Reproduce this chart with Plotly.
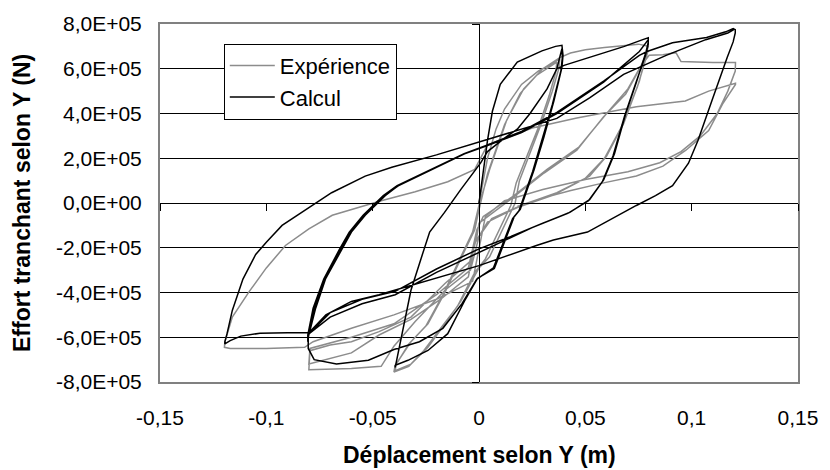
import plotly.graph_objects as go

# ---- axis ticks -------------------------------------------------------
x_ticks = [-0.15, -0.10, -0.05, 0.0, 0.05, 0.10, 0.15]
x_tick_text = ["-0,15", "-0,1", "-0,05", "0", "0,05", "0,1", "0,15"]
y_ticks = [-8e5, -6e5, -4e5, -2e5, 0.0, 2e5, 4e5, 6e5, 8e5]
y_tick_text = ["-8,0E+05", "-6,0E+05", "-4,0E+05", "-2,0E+05", "0,0E+00",
               "2,0E+05", "4,0E+05", "6,0E+05", "8,0E+05"]

# ---- test record (Expérience): displacement [m], shear force [N] -------
exp_disp = [
    0.0, 0.002, 0.004, 0.008, 0.012, 0.020, 0.028, 0.034, 0.038,
    0.0375, 0.0345, 0.0295, 0.0235, 0.019, 0.017, 0.012, 0.005, 0.0, -0.0086, -0.016, -0.024, -0.032, -0.0394,
    -0.039, -0.032, -0.024, -0.016, -0.0086, -0.002, 0.0, 0.004, 0.012, 0.0194, 0.027, 0.0366,
    0.036, 0.033, 0.028, 0.022, 0.0175, 0.015, 0.010, 0.003, -0.002, -0.010, -0.018, -0.026, -0.033, -0.040,
    -0.0395, -0.033, -0.025, -0.017, -0.010, -0.003, 0.0, 0.005, 0.013, 0.021, 0.030, 0.038, 0.043, 0.050, 0.059, 0.068, 0.075, 0.0796,
    0.0775, 0.0754, 0.068, 0.060, 0.052, 0.0366, 0.020, 0.006, 0.0, -0.004, -0.016, -0.030, -0.040, -0.046, -0.060, -0.072, -0.080,
    -0.0795, -0.070, -0.060, -0.047, -0.032, -0.016, -0.004, -0.001, 0.0, 0.0147, 0.0306, 0.046, 0.0586, 0.069, 0.075, 0.0795,
    0.078, 0.0745, 0.067, 0.059, 0.050, 0.035, 0.018, 0.004, -0.002, -0.005, -0.018, -0.032, -0.047, -0.060, -0.080,
    -0.0795, -0.060, -0.040, -0.020, -0.005, -0.001, 0.002, 0.016, 0.032, 0.047, 0.060, 0.070, 0.076, 0.080, 0.0865, 0.0926, 0.095, 0.110, 0.1206,
    0.1205, 0.117, 0.112, 0.104, 0.095, 0.085, 0.070, 0.050, 0.030, 0.012, 0.003, 0.0, -0.003, -0.020, -0.040, -0.060, -0.078, -0.082, -0.100, -0.117, -0.1197,
    -0.1195, -0.116, -0.108, -0.100, -0.091, -0.080, -0.069, -0.0567, -0.046, -0.030, -0.0147, -0.002, 0.004, 0.025, 0.046, 0.074, 0.097, 0.108, 0.1206,
    0.1206, 0.1145, 0.108, 0.0973, 0.0865, 0.074, 0.0586, 0.0427, 0.0273, 0.018,
]
exp_force = [
    0.0, 1.0e5, 2.0e5, 3.3e5, 4.2e5, 5.3e5, 5.9e5, 6.2e5, 6.45e5,
    6.0e5, 5.0e5, 3.6e5, 2.1e5, 1.0e5, 0.0, -1.0e5, -2.4e5, -2.9e5, -4.4e5, -5.4e5, -6.45e5, -7.2e5, -7.5e5,
    -7.2e5, -6.2e5, -5.4e5, -4.0e5, -2.5e5, -1.2e5, -0.3e5, 1.3e5, 3.5e5, 4.9e5, 5.7e5, 6.3e5,
    5.8e5, 4.8e5, 3.4e5, 2.0e5, 0.9e5, -0.1e5, -1.1e5, -2.5e5, -3.1e5, -4.6e5, -5.6e5, -6.6e5, -7.3e5, -7.55e5,
    -7.3e5, -6.3e5, -5.5e5, -4.1e5, -2.7e5, -1.3e5, -0.1e5, 1.5e5, 3.7e5, 5.1e5, 6.0e5, 6.5e5, 6.7e5, 6.85e5, 6.95e5, 7.05e5, 7.1e5, 7.0e5,
    6.2e5, 5.44e5, 3.55e5, 2.1e5, 1.2e5, 0.46e5, -0.1e5, -0.7e5, -1.5e5, -3.0e5, -3.9e5, -5.3e5, -6.4e5, -7.3e5, -7.4e5, -7.45e5, -7.45e5,
    -6.6e5, -6.35e5, -6.2e5, -5.75e5, -5.1e5, -3.6e5, -2.6e5, -1.5e5, -0.9e5, 0.15e5, 1.34e5, 2.36e5, 3.86e5, 4.87e5, 5.9e5, 6.8e5,
    6.3e5, 5.2e5, 3.4e5, 2.0e5, 1.1e5, 0.35e5, -0.2e5, -0.85e5, -1.8e5, -3.3e5, -4.3e5, -5.2e5, -5.9e5, -6.7e5, -7.2e5,
    -6.5e5, -6.0e5, -5.4e5, -4.1e5, -2.9e5, -1.2e5, -0.6e5, 0.3e5, 1.5e5, 2.5e5, 4.0e5, 5.1e5, 6.1e5, 6.6e5, 6.63e5, 6.72e5, 6.32e5, 6.28e5, 6.28e5,
    5.9e5, 5.0e5, 4.0e5, 3.0e5, 2.3e5, 1.8e5, 1.4e5, 1.05e5, 0.6e5, 0.1e5, -0.6e5, -2.0e5, -3.5e5, -4.3e5, -5.0e5, -5.6e5, -6.2e5, -6.45e5, -6.5e5, -6.5e5, -6.45e5,
    -6.2e5, -5.1e5, -3.95e5, -2.9e5, -1.9e5, -1.16e5, -0.55e5, -0.2e5, 0.1e5, 0.5e5, 0.95e5, 1.5e5, 2.6e5, 3.35e5, 3.8e5, 4.3e5, 4.56e5, 5.0e5, 5.35e5,
    5.3e5, 4.42e5, 3.24e5, 2.36e5, 1.65e5, 1.21e5, 0.9e5, 0.55e5, 0.15e5, -0.15e5,
]

# ---- numerical model (Calcul): displacement [m], shear force [N] -------
calc_disp = [
    0.0, 0.001, 0.002, 0.004, 0.0063, 0.010, 0.018, 0.0296, 0.036, 0.039,
    0.0395, 0.039, 0.0352, 0.0306, 0.0259, 0.0194, 0.0166, 0.0072, -0.0007, -0.0068, -0.0147, -0.024, -0.0334, -0.0394,
    -0.0394, -0.0366, -0.032, -0.0273, -0.0232, -0.0162, -0.0086, 0.0007, 0.004, 0.012, 0.018, 0.024, 0.032, 0.0366, 0.039,
    0.0392, 0.0385, 0.0345, 0.030, 0.0252, 0.0188, 0.0158, 0.0068, -0.001, -0.008, -0.017, -0.028, -0.040, -0.052, -0.067, -0.0775, -0.0803,
    -0.0803, -0.0768, -0.0721, -0.0646, -0.060, -0.0535, -0.0441, -0.038, -0.0226, -0.0068, 0.004, 0.012, 0.018, 0.024, 0.032, 0.0366, 0.040, 0.052, 0.068, 0.077, 0.0796,
    0.0796, 0.0786, 0.074, 0.069, 0.0637, 0.0586, 0.052, 0.0427, 0.030, 0.015, 0.0, -0.020, -0.0394, -0.055, -0.070, -0.080, -0.0805,
    -0.0805, -0.0775, -0.0727, -0.065, -0.0605, -0.054, -0.0445, -0.038, -0.0226, -0.0068, 0.004, 0.020, 0.0366, 0.0586, 0.0754, 0.0796,
    0.0796, 0.0783, 0.0735, 0.0685, 0.063, 0.058, 0.0515, 0.042, 0.025, 0.0, -0.020, -0.0394, -0.055, -0.070, -0.080, -0.0805,
    -0.0805, -0.078, -0.073, -0.0655, -0.061, -0.0545, -0.045, -0.0385, -0.023, -0.007, 0.004, 0.020, 0.0366, 0.0586, 0.0754, 0.079, 0.091, 0.107, 0.116, 0.1195, 0.1205,
    0.1205, 0.1195, 0.1167, 0.110, 0.103, 0.0985, 0.091, 0.083, 0.074, 0.051, 0.035, 0.027, 0.0, -0.047, -0.060, -0.072, -0.080, -0.090, -0.103, -0.112, -0.117, -0.1195,
    -0.1195, -0.1185, -0.116, -0.111, -0.105, -0.100, -0.0926, -0.0814, -0.0693, -0.0535, -0.041, -0.020, 0.0007, 0.0366, 0.052, 0.068, 0.088, 0.1066, 0.117, 0.1198,
]
calc_force = [
    0.0, 0.7e5, 1.34e5, 2.8e5, 4.1e5, 5.3e5, 6.3e5, 6.8e5, 7.0e5, 7.05e5,
    6.6e5, 6.06e5, 4.56e5, 2.97e5, 1.48e5, -0.29e5, -0.6e5, -2.93e5, -3.37e5, -4.38e5, -5.84e5, -6.59e5, -7.03e5, -7.25e5,
    -7.35e5, -6.1e5, -3.9e5, -2.5e5, -1.3e5, -0.42e5, 0.6e5, 1.78e5, 2.3e5, 2.9e5, 3.3e5, 4.0e5, 5.1e5, 6.0e5, 6.9e5,
    6.5e5, 5.9e5, 4.4e5, 2.9e5, 1.4e5, -0.35e5, -0.7e5, -2.9e5, -3.4e5, -4.5e5, -5.6e5, -6.2e5, -6.55e5, -7.03e5, -7.2e5, -7.0e5, -6.5e5,
    -6.0e5, -4.7e5, -3.38e5, -2.05e5, -1.3e5, -0.55e5, 0.33e5, 0.77e5, 1.47e5, 2.2e5, 2.57e5, 2.9e5, 3.3e5, 4.0e5, 5.1e5, 6.0e5, 6.15e5, 6.5e5, 6.99e5, 7.3e5, 7.38e5,
    7.2e5, 6.77e5, 5.4e5, 4.0e5, 2.2e5, 1.03e5, 0.15e5, -0.42e5, -0.9e5, -1.5e5, -2.05e5, -2.95e5, -3.95e5, -4.3e5, -4.9e5, -5.85e5, -6.2e5,
    -6.0e5, -4.7e5, -3.4e5, -2.05e5, -1.3e5, -0.55e5, 0.33e5, 0.77e5, 1.47e5, 2.2e5, 2.57e5, 3.15e5, 4.0e5, 5.4e5, 6.77e5, 7.3e5,
    7.1e5, 6.6e5, 5.3e5, 3.9e5, 2.1e5, 0.95e5, 0.1e5, -0.45e5, -1.1e5, -2.2e5, -3.1e5, -4.1e5, -4.5e5, -5.1e5, -5.85e5, -6.1e5,
    -5.9e5, -4.7e5, -3.4e5, -2.05e5, -1.3e5, -0.55e5, 0.33e5, 0.77e5, 1.47e5, 2.2e5, 2.6e5, 3.2e5, 4.05e5, 5.45e5, 6.6e5, 6.77e5, 7.16e5, 7.4e5, 7.65e5, 7.8e5, 7.75e5,
    7.6e5, 7.2e5, 6.5e5, 4.7e5, 2.8e5, 1.78e5, 0.77e5, 0.33e5, -0.11e5, -1.3e5, -1.65e5, -1.9e5, -2.8e5, -4.1e5, -4.4e5, -5.0e5, -5.8e5, -5.8e5, -5.82e5, -5.95e5, -6.15e5, -6.3e5,
    -6.2e5, -5.85e5, -4.8e5, -3.4e5, -2.3e5, -1.75e5, -1.0e5, -0.3e5, 0.46e5, 1.2e5, 1.6e5, 2.15e5, 2.75e5, 3.78e5, 4.7e5, 5.75e5, 6.6e5, 7.3e5, 7.6e5, 7.75e5,
]

FONT = "Liberation Sans, Arial, sans-serif"
GRAY = "#8c8c8c"

fig = go.Figure()
fig.add_trace(go.Scatter(x=exp_disp, y=exp_force, mode="lines", name="Expérience",
                         legendgroup="exp",
                         line=dict(color=GRAY, width=1.5)))
fig.add_trace(go.Scatter(x=calc_disp, y=calc_force, mode="lines", name="Calcul",
                         legendgroup="calc",
                         line=dict(color="black", width=1.5)))
# empty trace that carries the axes crossing at the origin
fig.add_trace(go.Scatter(x=[None], y=[None], xaxis="x2", yaxis="y2",
                         showlegend=False, hoverinfo="skip"))

fig.update_layout(
    width=830, height=470,
    margin=dict(l=160, r=27, t=19, b=88),
    paper_bgcolor="white", plot_bgcolor="white",
    font=dict(family=FONT, size=21, color="black"),
    showlegend=True,
    legend=dict(x=0.100, y=0.945, xanchor="left", yanchor="top",
                bgcolor="white", bordercolor="black", borderwidth=1,
                font=dict(size=22), itemwidth=45, tracegroupgap=0),
    xaxis=dict(range=[-0.15, 0.15], tickvals=x_ticks, ticktext=x_tick_text,
               showgrid=False, zeroline=False, ticks="",
               ticklabelstandoff=16,
               showline=True, linecolor="#808080", linewidth=2, mirror=True),
    yaxis=dict(range=[-8e5, 8e5], tickvals=y_ticks, ticktext=y_tick_text,
               showgrid=True, gridcolor="black", gridwidth=1, zeroline=False,
               ticks="", ticklabelstandoff=12,
               showline=True, linecolor="#808080", linewidth=2, mirror=True),
    xaxis2=dict(overlaying="x", anchor="free", position=0.5, range=[-0.15, 0.15],
                tickvals=x_ticks, showticklabels=False, showgrid=False, zeroline=False,
                showline=True, linecolor="black", linewidth=1,
                ticks="outside", ticklen=7, tickcolor="black", tickwidth=1),
    yaxis2=dict(overlaying="y", anchor="free", position=0.5, range=[-8e5, 8e5],
                tickvals=y_ticks, showticklabels=False, showgrid=False, zeroline=False,
                showline=True, linecolor="black", linewidth=1, side="left",
                ticks="outside", ticklen=7, tickcolor="black", tickwidth=1),
    annotations=[
        dict(text="<b>Déplacement selon Y (m)</b>", xref="paper", yref="paper",
             x=0.5, y=0, xanchor="center", yanchor="middle", yshift=-73,
             showarrow=False, font=dict(size=23)),
        dict(text="<b>Effort tranchant selon Y (N)</b>", xref="paper", yref="paper",
             x=0, y=0.5, xanchor="center", yanchor="middle", xshift=-138,
             textangle=-90, showarrow=False, font=dict(size=23)),
    ],
)

fig.write_html("out.html")
